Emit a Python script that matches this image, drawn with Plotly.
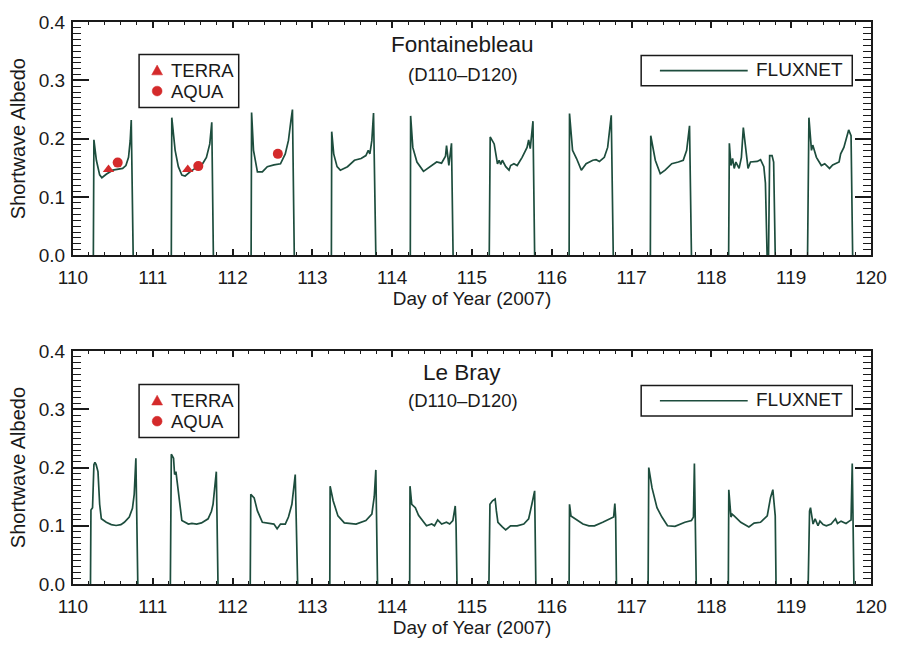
import plotly.graph_objects as go

# ---------------- data ----------------
x_ticks = [110, 111, 112, 113, 114, 115, 116, 117, 118, 119, 120]
y_ticks = [0.0, 0.1, 0.2, 0.3, 0.4]

# Fontainebleau FLUXNET albedo, one list per day
fb_x = [
    [110.255, 110.262, 110.293, 110.334, 110.362, 110.416, 110.498, 110.56, 110.622, 110.663, 110.696, 110.717, 110.730, 110.754],
    [111.232, 111.238, 111.28, 111.32, 111.364, 111.405, 111.467, 111.529, 111.61, 111.672, 111.714, 111.739, 111.759],
    [112.232, 112.238, 112.262, 112.311, 112.373, 112.435, 112.518, 112.60, 112.66, 112.70, 112.73, 112.75, 112.773],
    [113.238, 113.242, 113.267, 113.309, 113.35, 113.44, 113.527, 113.61, 113.67, 113.70, 113.72, 113.745, 113.766, 113.795],
    [114.227, 114.231, 114.258, 114.31, 114.392, 114.495, 114.557, 114.618, 114.668, 114.681, 114.71, 114.743, 114.763],
    [115.216, 115.228, 115.278, 115.319, 115.34, 115.36, 115.38, 115.423, 115.464, 115.484, 115.525, 115.566, 115.628, 115.69, 115.71, 115.73, 115.764, 115.785],
    [116.217, 116.222, 116.26, 116.31, 116.37, 116.43, 116.514, 116.555, 116.597, 116.658, 116.70, 116.725, 116.745, 116.77],
    [117.235, 117.24, 117.297, 117.359, 117.42, 117.503, 117.586, 117.647, 117.69, 117.726, 117.75],
    [118.216, 118.225, 118.245, 118.265, 118.286, 118.307, 118.347, 118.376, 118.40, 118.43, 118.459, 118.49, 118.574, 118.616, 118.657, 118.677, 118.698, 118.716, 118.73, 118.76, 118.78, 118.80],
    [119.205, 119.222, 119.254, 119.27, 119.316, 119.378, 119.42, 119.48, 119.52, 119.56, 119.60, 119.62, 119.66, 119.72, 119.75, 119.77],
]
fb_y = [
    [0, 0.198, 0.163, 0.138, 0.133, 0.139, 0.146, 0.148, 0.149, 0.154, 0.168, 0.197, 0.232, 0],
    [0, 0.236, 0.18, 0.152, 0.1375, 0.136, 0.143, 0.149, 0.154, 0.168, 0.191, 0.228, 0],
    [0, 0.245, 0.18, 0.143, 0.143, 0.152, 0.155, 0.157, 0.174, 0.197, 0.230, 0.25, 0],
    [0, 0.212, 0.174, 0.152, 0.146, 0.152, 0.163, 0.166, 0.171, 0.18, 0.174, 0.197, 0.244, 0],
    [0, 0.239, 0.185, 0.16, 0.144, 0.154, 0.16, 0.158, 0.17, 0.188, 0.154, 0.192, 0],
    [0, 0.203, 0.191, 0.157, 0.163, 0.156, 0.163, 0.152, 0.146, 0.154, 0.157, 0.154, 0.168, 0.185, 0.198, 0.183, 0.230, 0],
    [0, 0.243, 0.18, 0.166, 0.146, 0.157, 0.163, 0.164, 0.161, 0.168, 0.185, 0.215, 0.24, 0],
    [0, 0.205, 0.163, 0.14, 0.146, 0.157, 0.16, 0.163, 0.18, 0.222, 0],
    [0, 0.192, 0.154, 0.166, 0.149, 0.16, 0.149, 0.168, 0.219, 0.18, 0.149, 0.16, 0.161, 0.164, 0.152, 0.124, 0, 0, 0.171, 0.171, 0.16, 0],
    [0, 0.236, 0.18, 0.189, 0.168, 0.154, 0.157, 0.149, 0.155, 0.157, 0.16, 0.174, 0.185, 0.215, 0.205, 0],
]

# MODIS retrievals (Fontainebleau only)
terra_x = [110.445, 111.438]
terra_y = [0.147, 0.147]
aqua_x = [110.56, 111.57, 112.567]
aqua_y = [0.159, 0.153, 0.174]

# Le Bray FLUXNET albedo, one list per day
lb_x = [
    [110.219, 110.225, 110.245, 110.262, 110.275, 110.29, 110.313, 110.334, 110.355, 110.417, 110.48, 110.54, 110.60, 110.643, 110.705, 110.745, 110.767, 110.788, 110.812],
    [111.22, 111.232, 111.26, 111.273, 111.29, 111.323, 111.364, 111.446, 111.49, 111.549, 111.61, 111.693, 111.735, 111.755, 111.796, 111.817],
    [112.221, 112.228, 112.27, 112.31, 112.373, 112.435, 112.476, 112.518, 112.558, 112.60, 112.66, 112.70, 112.743, 112.785, 112.815],
    [113.218, 113.222, 113.26, 113.32, 113.40, 113.547, 113.67, 113.745, 113.775, 113.795, 113.816],
    [114.219, 114.223, 114.245, 114.29, 114.33, 114.39, 114.43, 114.495, 114.53, 114.57, 114.62, 114.68, 114.72, 114.76, 114.79, 114.80, 114.812],
    [115.212, 115.225, 115.257, 115.29, 115.305, 115.325, 115.38, 115.422, 115.484, 115.566, 115.649, 115.71, 115.75, 115.785, 115.80],
    [116.217, 116.222, 116.24, 116.29, 116.33, 116.39, 116.465, 116.535, 116.638, 116.74, 116.775, 116.79, 116.80, 116.81],
    [117.207, 117.215, 117.256, 117.318, 117.38, 117.45, 117.544, 117.606, 117.668, 117.75, 117.775, 117.787, 117.81],
    [118.212, 118.218, 118.245, 118.26, 118.285, 118.368, 118.47, 118.535, 118.615, 118.70, 118.74, 118.77, 118.80, 118.81],
    [119.213, 119.23, 119.242, 119.274, 119.30, 119.336, 119.36, 119.40, 119.44, 119.50, 119.555, 119.58, 119.625, 119.687, 119.728, 119.75, 119.765, 119.786],
]
lb_y = [
    [0, 0.127, 0.131, 0.205, 0.209, 0.205, 0.193, 0.137, 0.112, 0.106, 0.102, 0.1005, 0.102, 0.106, 0.115, 0.13, 0.154, 0.216, 0],
    [0, 0.223, 0.216, 0.188, 0.193, 0.154, 0.109, 0.103, 0.104, 0.103, 0.105, 0.112, 0.125, 0.137, 0.193, 0],
    [0, 0.154, 0.148, 0.126, 0.106, 0.1045, 0.103, 0.103, 0.095, 0.103, 0.103, 0.115, 0.137, 0.188, 0],
    [0, 0.168, 0.143, 0.117, 0.105, 0.103, 0.109, 0.12, 0.15, 0.196, 0],
    [0, 0.168, 0.137, 0.131, 0.118, 0.106, 0.1, 0.103, 0.1, 0.11, 0.103, 0.106, 0.103, 0.109, 0.134, 0.103, 0],
    [0, 0.137, 0.143, 0.146, 0.126, 0.106, 0.098, 0.093, 0.1, 0.1, 0.103, 0.112, 0.137, 0.16, 0],
    [0, 0.137, 0.117, 0.112, 0.109, 0.103, 0.1, 0.1, 0.106, 0.112, 0.115, 0.138, 0.115, 0],
    [0, 0.2, 0.165, 0.131, 0.115, 0.1, 0.099, 0.103, 0.106, 0.109, 0.115, 0.207, 0],
    [0, 0.162, 0.115, 0.12, 0.117, 0.106, 0.098, 0.1045, 0.106, 0.117, 0.148, 0.162, 0.117, 0],
    [0, 0.125, 0.131, 0.103, 0.112, 0.1, 0.108, 0.102, 0.1, 0.103, 0.112, 0.104, 0.108, 0.104, 0.108, 0.11, 0.207, 0],
]

site_names = ["Fontainebleau", "Le Bray"]
period_label = "(D110\u2013D120)"
legend_labels = ["TERRA", "AQUA", "FLUXNET"]

# ---------------- styling / layout helpers ----------------
W, H = 899, 646
L, R, T, B = 73, 17, 19, 55
PW, PH = W - L - R, H - T - B
FONT = "Liberation Sans, Arial, Helvetica, sans-serif"
LINE_C = "#1d4d3d"
RED = "#d42a2b"
INK = "#1a1a1a"


def PX(px):
    return (px - L) / PW


def PY(py):
    return (H - B - py) / PH


def join_days(xs, ys):
    X, Y = [], []
    for dx, dy in zip(xs, ys):
        X += dx + [None]
        Y += dy + [None]
    return X, Y


fig = go.Figure()

fbX, fbY = join_days(fb_x, fb_y)
lbX, lbY = join_days(lb_x, lb_y)

fig.add_trace(go.Scatter(x=fbX, y=fbY, mode="lines", name="FLUXNET",
                         line=dict(color=LINE_C, width=1.7), showlegend=False,
                         xaxis="x", yaxis="y", connectgaps=False))
fig.add_trace(go.Scatter(x=terra_x, y=terra_y, mode="markers", name="TERRA",
                         marker=dict(symbol="triangle-up", size=10, color=RED),
                         showlegend=False, xaxis="x", yaxis="y"))
fig.add_trace(go.Scatter(x=aqua_x, y=aqua_y, mode="markers", name="AQUA",
                         marker=dict(symbol="circle", size=10, color=RED),
                         showlegend=False, xaxis="x", yaxis="y"))
fig.add_trace(go.Scatter(x=lbX, y=lbY, mode="lines", name="FLUXNET",
                         line=dict(color=LINE_C, width=1.7), showlegend=False,
                         xaxis="x2", yaxis="y2", connectgaps=False))

top_dom = [PY(256.5), 1.0]
bot_dom = [0.0, PY(354)]

xcommon = dict(range=[110, 120], tickvals=x_ticks, ticks="inside", ticklen=6,
               tickwidth=1.5, tickcolor=INK, showline=True, linewidth=2,
               linecolor=INK, mirror="ticks", showgrid=False, zeroline=False,
               tickfont=dict(size=19, color=INK, family=FONT),
               minor=dict(dtick=0.2, ticklen=3, ticks="inside", tickwidth=1, tickcolor=INK),
               ticklabelstandoff=4,
               title=dict(text="Day of Year (2007)", font=dict(size=19, color=INK, family=FONT), standoff=4))
ycommon = dict(range=[0, 0.4], tickvals=y_ticks, tickformat=".1f", ticks="inside",
               ticklen=16, tickwidth=1.5, tickcolor=INK, showline=True, linewidth=2,
               linecolor=INK, mirror="ticks", showgrid=False, zeroline=False,
               tickfont=dict(size=19, color=INK, family=FONT),
               minor=dict(dtick=0.01, ticklen=8, ticks="inside", tickwidth=1, tickcolor=INK),
               ticklabelstandoff=2,
               title=dict(text="Shortwave Albedo", font=dict(size=20, color=INK, family=FONT), standoff=8))

fig.update_layout(
    width=W, height=H,
    margin=dict(l=L, r=R, t=T, b=B),
    paper_bgcolor="white", plot_bgcolor="white",
    font=dict(family=FONT, color=INK),
    showlegend=False,
    xaxis=dict(domain=[0, 1], anchor="y", **xcommon),
    yaxis=dict(domain=top_dom, anchor="x", **ycommon),
    xaxis2=dict(domain=[0, 1], anchor="y2", **xcommon),
    yaxis2=dict(domain=bot_dom, anchor="x2", **ycommon),
)

# site titles
for name, py_t, py_s in [(site_names[0], 42, 72.5), (site_names[1], 376, 404)]:
    fig.add_annotation(x=PX(467.5), y=PY(py_t), xref="paper", yref="paper",
                       text=name, showarrow=False, xanchor="center", yanchor="middle",
                       font=dict(size=22.5, color=INK, family=FONT))
    fig.add_annotation(x=PX(468), y=PY(py_s), xref="paper", yref="paper",
                       text=period_label, showarrow=False, xanchor="center", yanchor="middle",
                       font=dict(size=18.5, color=INK, family=FONT))

# legend boxes, drawn in pixel positions of the original figure
for top in [52, 388]:
    # MODIS legend
    fig.add_shape(type="rect", xref="paper", yref="paper",
                  x0=PX(140), x1=PX(241), y0=PY(top + 54), y1=PY(top),
                  line=dict(color=INK, width=1.5), fillcolor="white", layer="above")
    r1, r2 = top + 16.3, top + 37.3
    cx = 158.3
    fig.add_shape(type="path", xref="paper", yref="paper",
                  path=f"M {PX(cx)},{PY(r1 - 5.5)} L {PX(cx + 5.5)},{PY(r1 + 4.5)} L {PX(cx - 5.5)},{PY(r1 + 4.5)} Z",
                  line=dict(color=RED, width=0.5), fillcolor=RED, layer="above")
    fig.add_shape(type="circle", xref="paper", yref="paper",
                  x0=PX(cx - 5), x1=PX(cx + 5), y0=PY(r2 + 5), y1=PY(r2 - 5),
                  line=dict(color=RED, width=0.5), fillcolor=RED, layer="above")
    for lab, r in [(legend_labels[0], r1), (legend_labels[1], r2)]:
        fig.add_annotation(x=PX(170), y=PY(r), xref="paper", yref="paper",
                           text=lab, showarrow=False, xanchor="left", yanchor="middle",
                           font=dict(size=18.5, color=INK, family=FONT))

    # FLUXNET legend
    ftop = top + 1
    fbot = ftop + 31
    mid = (ftop + fbot) / 2
    fig.add_shape(type="rect", xref="paper", yref="paper",
                  x0=PX(649), x1=PX(863), y0=PY(fbot), y1=PY(ftop),
                  line=dict(color=INK, width=1.5), fillcolor="white", layer="above")
    fig.add_shape(type="line", xref="paper", yref="paper",
                  x0=PX(668), x1=PX(757), y0=PY(mid), y1=PY(mid),
                  line=dict(color=LINE_C, width=1.7), layer="above")
    fig.add_annotation(x=PX(856), y=PY(mid - 1), xref="paper", yref="paper",
                       text=legend_labels[2], showarrow=False, xanchor="right", yanchor="middle",
                       font=dict(size=19, color=INK, family=FONT))

fig.write_html("out.html")
